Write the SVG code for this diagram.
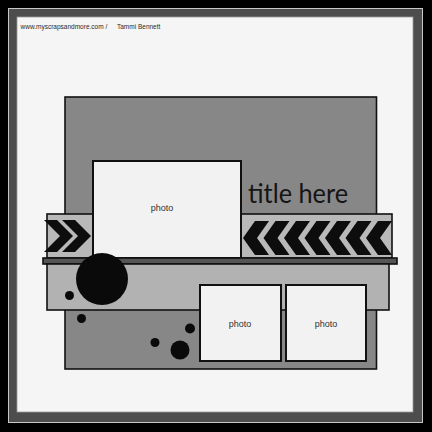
<svg xmlns="http://www.w3.org/2000/svg" width="432" height="432" viewBox="0 0 432 432">
<style>
.ln{stroke:#111;stroke-width:1.6}
.photo{fill:#f2f2f2;stroke:#111;stroke-width:2}
.lbl{font-family:"Liberation Sans",Arial,sans-serif;font-size:9px;fill:#333;text-anchor:middle}
.chev{fill:#0d0d0d}
.dot{fill:#0a0a0a}
</style>
<defs>
<path id="chevR" d="M0,0 H13 L29,16 L13,32 H0 L16,16 Z"/>
<path id="chevL" d="M0,17 L12,0 H26 L14,17 L26,34 H12 Z"/>
<clipPath id="stripClip"><rect x="47" y="214" width="346" height="44"/></clipPath>
</defs>
<rect width="432" height="432" fill="#000"/>
<rect x="8.5" y="8.5" width="414" height="414" fill="#4d4d4d" stroke="#c8c8c8" stroke-width="1"/>
<rect x="17" y="17" width="396" height="395" fill="#f5f5f5" stroke="#9a9a9a" stroke-width="0.8"/>
<text x="20.5" y="29" font-family="Liberation Sans,Arial,sans-serif" font-size="6.5" fill="#2a2a2a"><tspan x="20.5">www.myscrapsandmore.com /</tspan><tspan x="117">Tammi Bennett</tspan></text>
<g id="background">
<rect x="65" y="97" width="311.5" height="272" fill="#878787" class="ln"/>
</g>
<g id="strip">
<rect x="47" y="214" width="345" height="44" fill="#b9b9b9" class="ln"/>
<g clip-path="url(#stripClip)">
<use href="#chevL" x="243" y="221" class="chev"/>
<use href="#chevL" x="263.5" y="221" class="chev"/>
<use href="#chevL" x="284" y="221" class="chev"/>
<use href="#chevL" x="304.5" y="221" class="chev"/>
<use href="#chevL" x="325" y="221" class="chev"/>
<use href="#chevL" x="345.5" y="221" class="chev"/>
<use href="#chevL" x="366" y="221" class="chev"/>
</g>
<use href="#chevR" x="44" y="220" class="chev"/>
<use href="#chevR" x="62" y="220" class="chev"/>
</g>
<g id="title">
<text x="248" y="203" font-family="Lato,'Liberation Sans',sans-serif" font-weight="400" font-size="27" fill="#151515" textLength="100" lengthAdjust="spacingAndGlyphs">title here</text>
</g>
<g id="photo1">
<rect x="93" y="161" width="148" height="97" class="photo"/>
<text x="162" y="211" class="lbl">photo</text>
</g>
<g id="bar">
<rect x="43" y="258" width="354" height="6" fill="#555" class="ln" stroke-width="1"/>
</g>
<g id="band">
<rect x="47" y="264" width="342" height="46" fill="#b2b2b2" class="ln"/>
</g>
<g id="dots">
<circle cx="102" cy="279" r="26" class="dot"/>
<circle cx="69.5" cy="295.5" r="4.5" class="dot"/>
<circle cx="81.5" cy="318.5" r="4.5" class="dot"/>
<circle cx="190" cy="328.5" r="5" class="dot"/>
<circle cx="155" cy="342.5" r="4.5" class="dot"/>
<circle cx="180" cy="350" r="9.5" class="dot"/>
</g>
<g id="photo2">
<rect x="200" y="285" width="81" height="76" class="photo"/>
<text x="240" y="327" class="lbl">photo</text>
</g>
<g id="photo3">
<rect x="286" y="285" width="80" height="76" class="photo"/>
<text x="326" y="327" class="lbl">photo</text>
</g>
</svg>
